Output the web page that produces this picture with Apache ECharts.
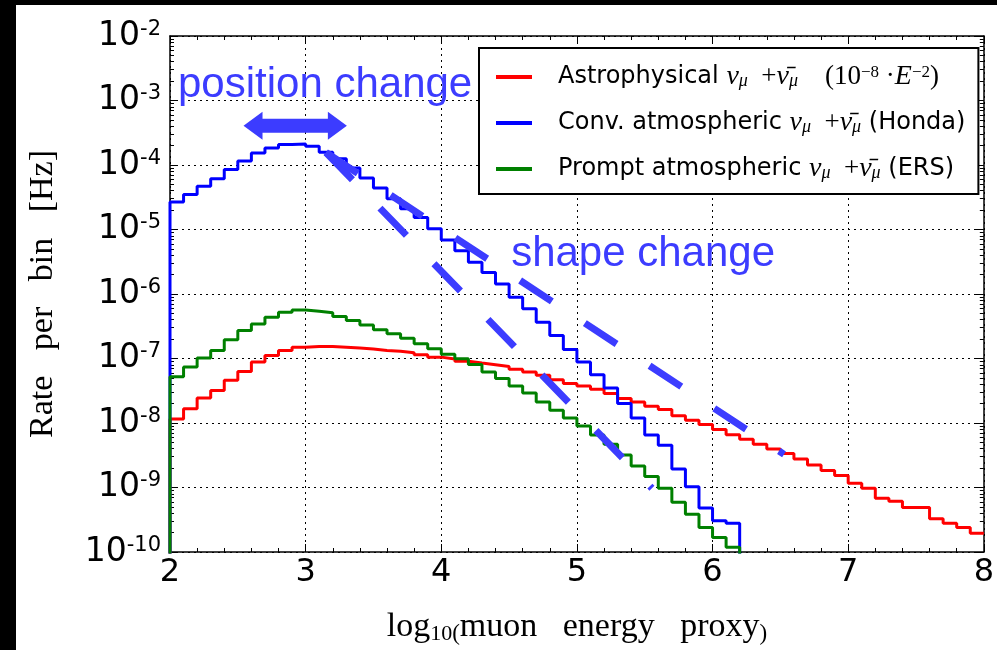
<!DOCTYPE html>
<html>
<head>
<meta charset="utf-8">
<script src="https://cdn.jsdelivr.net/npm/echarts@6/dist/echarts.min.js"></script>
<style>
  html, body { margin: 0; padding: 0; background: #fff; }
  #chart { width: 997px; height: 650px; }
</style>
</head>
<body>
<div id="chart"></div>
<script>
// Bin edges in log10(muon energy proxy); every bin is 0.1 wide.
const binEdges = [2.0, 2.1, 2.2, 2.3, 2.4, 2.5, 2.6, 2.7, 2.8, 2.9,
                  3.0, 3.1, 3.2, 3.3, 3.4, 3.5, 3.6, 3.7, 3.8, 3.9,
                  4.0, 4.1, 4.2, 4.3, 4.4, 4.5, 4.6, 4.7, 4.8, 4.9,
                  5.0, 5.1, 5.2, 5.3, 5.4, 5.5, 5.6, 5.7, 5.8, 5.9,
                  6.0, 6.1, 6.2, 6.3, 6.4, 6.5, 6.6, 6.7, 6.8, 6.9,
                  7.0, 7.1, 7.2, 7.3, 7.4, 7.5, 7.6, 7.7, 7.8, 7.9, 8.0];

// Rate per bin [Hz], one value per bin, starting at 2.0
const astroRate = [1.15e-8, 1.67e-8, 2.45e-8, 3.2e-8, 4.6e-8, 6.3e-8, 8.8e-8, 1.11e-7, 1.33e-7, 1.5e-7,
                   1.53e-7, 1.53e-7, 1.5e-7, 1.45e-7, 1.4e-7, 1.33e-7, 1.29e-7, 1.23e-7, 1.14e-7, 1.05e-7,
                   9.8e-8, 9.1e-8, 8.5e-8, 8.0e-8, 7.5e-8, 6.8e-8, 6.2e-8, 5.5e-8, 4.7e-8, 4.1e-8,
                   3.75e-8, 3.33e-8, 2.86e-8, 2.39e-8, 2.12e-8, 1.82e-8, 1.62e-8, 1.29e-8, 1.1e-8, 9.5e-9,
                   7.9e-9, 6.6e-9, 5.6e-9, 4.7e-9, 3.94e-9, 3.38e-9, 2.76e-9, 2.23e-9, 1.83e-9, 1.53e-9,
                   1.16e-9, 9.7e-10, 6.8e-10, 6.1e-10, 4.9e-10, 4.9e-10, 3.27e-10, 2.8e-10, 2.4e-10, 1.96e-10];

const convRate = [2.67e-5, 3.5e-5, 4.7e-5, 6.1e-5, 8.5e-5, 1.15e-4, 1.54e-4, 1.84e-4, 2.07e-4, 2.12e-4,
                  1.95e-4, 1.58e-4, 1.25e-4, 9.0e-5, 6.3e-5, 4.4e-5, 3.0e-5, 2.1e-5, 1.53e-5, 1.03e-5,
                  6.9e-6, 4.67e-6, 3.1e-6, 2.16e-6, 1.43e-6, 8.9e-7, 5.9e-7, 3.66e-7, 2.27e-7, 1.38e-7,
                  8.8e-8, 5.6e-8, 3.5e-8, 2.0e-8, 1.2e-8, 6.5e-9, 4.5e-9, 1.94e-9, 1.03e-9, 4.8e-10,
                  3.05e-10, 2.8e-10];

const promptRate = [5.2e-8, 7.4e-8, 1.02e-7, 1.33e-7, 1.95e-7, 2.71e-7, 3.44e-7, 4.37e-7, 5.2e-7, 5.66e-7,
                    5.4e-7, 5.1e-7, 4.46e-7, 3.87e-7, 3.32e-7, 2.78e-7, 2.41e-7, 2.06e-7, 1.69e-7, 1.42e-7,
                    1.16e-7, 9.9e-8, 8.1e-8, 6.2e-8, 4.9e-8, 3.75e-8, 2.92e-8, 2.12e-8, 1.58e-8, 1.2e-8,
                    9.0e-9, 6.5e-9, 4.7e-9, 3.2e-9, 2.15e-9, 1.48e-9, 9.7e-10, 5.9e-10, 3.86e-10, 2.4e-10,
                    1.68e-10, 1.18e-10];

// Axis ticks
const xTicks = [2, 3, 4, 5, 6, 7, 8];
const yTickExponents = [-10, -9, -8, -7, -6, -5, -4, -3, -2];

// Hand-drawn guide lines: [log10 E, rate] end points
const guideStart = [3.15, 1.56e-4];
const guideSteepEnd = [5.553, 9.75e-10];
const guideShallowEnd = [6.527, 3.27e-9];
const arrowEnds = [[2.542, 4.07e-4], [3.304, 4.07e-4]];
const positionLabelAt = [2.059, 1.05e-3];
const shapeLabelAt = [4.515, 2.5e-6];

const Y_MIN = 1e-10, Y_MAX = 1e-2;
const FLOOR = 1e-13; // below the axis: histogram edges drop out of view

// Build the outline of a step histogram from bin edges and per-bin values.
function histOutline(values, dropAtEnd) {
  const pts = [[binEdges[0], FLOOR]];
  values.forEach((v, i) => pts.push([binEdges[i], v]));
  const endEdge = binEdges[values.length];
  pts.push([endEdge, values[values.length - 1]]);
  if (dropAtEnd) pts.push([endEdge, FLOOR]);
  return pts;
}

// Minor ticks for a log axis: 2..9 times each decade
const yMinorTicks = [];
for (let e = -10; e < -2; e++) {
  for (let k = 2; k <= 9; k++) yMinorTicks.push(k * Math.pow(10, e));
}

const ANNOT = '#3c3cff';
const SERIF = '"Liberation Serif", "DejaVu Serif", serif';
const SANS = '"DejaVu Sans", sans-serif';

const mathRich = {
  sp: { width: 21 },
  t: { fontFamily: SANS, fontSize: 24, color: '#000', lineHeight: 26 },
  m: { fontFamily: SERIF, fontSize: 27, color: '#000', lineHeight: 26 },
  mi: { fontFamily: SERIF, fontStyle: 'italic', fontSize: 28, color: '#000', lineHeight: 26 },
  sub: { fontFamily: SERIF, fontStyle: 'italic', fontSize: 18, color: '#000', lineHeight: 16, verticalAlign: 'bottom' },
  sup: { fontFamily: SERIF, fontSize: 17, color: '#000', lineHeight: 16, verticalAlign: 'top' }
};

const legendText = {
  'Astrophysical': '{sp|}{t|Astrophysical }{mi|ν}{sub|μ}{m|  +}{mi|ν̄}{sub|μ}{m|    (10}{sup|−8}{m| ·}{mi|E}{sup|−2}{m|)}',
  'Conv. atmospheric': '{sp|}{t|Conv. atmospheric }{mi|ν}{sub|μ}{m|  +}{mi|ν̄}{sub|μ}{t| (Honda)}',
  'Prompt atmospheric': '{sp|}{t|Prompt atmospheric }{mi|ν}{sub|μ}{m|  +}{mi|ν̄}{sub|μ}{t| (ERS)}'
};

function exponentOf(v) { return Math.round(Math.log10(v)); }

const dotted = { color: '#000', width: 1, type: [2, 4] };

const option = {
  animation: false,
  backgroundColor: '#fff',
  grid: { left: 170, top: 36, right: 8, bottom: 96, containLabel: false },
  legend: {
    data: ['Astrophysical', 'Conv. atmospheric', 'Prompt atmospheric'],
    orient: 'vertical',
    left: 479, top: 48,
    padding: [15, 13, 11, 17],
    icon: 'rect',
    itemWidth: 36, itemHeight: 4, itemGap: 18,
    backgroundColor: '#fff',
    borderColor: '#000', borderWidth: 2,
    formatter: name => legendText[name],
    textStyle: { rich: mathRich }
  },
  xAxis: [
    {
      type: 'value', min: 2, max: 8, interval: 1, position: 'bottom',
      axisLine: { lineStyle: { color: '#000', width: 1.5 } },
      axisTick: { inside: true, length: 8, lineStyle: { color: '#000' } },
      minorTick: { show: true, splitNumber: 5, length: 4, lineStyle: { color: '#000' } },
      splitLine: { show: true, lineStyle: dotted },
      axisLabel: {
        customValues: xTicks,
        fontFamily: SANS, fontSize: 32, color: '#000', margin: 5,
        formatter: v => String(v)
      },
      name: '{a|log}{s|10}{p|(}{a|muon   energy   proxy}{p|)}',
      nameLocation: 'middle', nameGap: 57,
      nameTextStyle: {
        rich: {
          a: { fontFamily: SERIF, fontSize: 34, color: '#000', lineHeight: 36 },
          s: { fontFamily: SERIF, fontSize: 22, color: '#000', lineHeight: 21, verticalAlign: 'bottom' },
          p: { fontFamily: SERIF, fontSize: 23, color: '#000', lineHeight: 24, verticalAlign: 'bottom' }
        }
      }
    },
    {
      type: 'value', min: 2, max: 8, interval: 1, position: 'top',
      axisLine: { lineStyle: { color: '#000', width: 1.5 } },
      axisTick: { inside: true, length: 8, lineStyle: { color: '#000' } },
      minorTick: { show: true, splitNumber: 5, length: 4, lineStyle: { color: '#000' } },
      splitLine: { show: false },
      axisLabel: { show: false }
    }
  ],
  yAxis: [
    {
      type: 'log', logBase: 10, min: Y_MIN, max: Y_MAX, splitNumber: 8, position: 'left',
      axisLine: { lineStyle: { color: '#000', width: 1.5 } },
      axisTick: { inside: true, length: 8, lineStyle: { color: '#000' } },
      splitLine: { show: true, lineStyle: dotted },
      axisLabel: {
        customValues: yTickExponents.map(e => Math.pow(10, e)),
        margin: 9,
        formatter: v => '{b|10}{s|' + exponentOf(v) + '}',
        rich: {
          b: { fontFamily: SANS, fontSize: 33, color: '#000', lineHeight: 34 },
          s: { fontFamily: SANS, fontSize: 21, color: '#000', lineHeight: 20, verticalAlign: 'top' }
        }
      },
      name: 'Rate   per   bin   [Hz]',
      nameLocation: 'middle', nameGap: 110, nameRotate: 90,
      nameTextStyle: { fontFamily: SERIF, fontSize: 34, color: '#000' }
    },
    {
      type: 'log', logBase: 10, min: Y_MIN, max: Y_MAX, splitNumber: 8, position: 'right',
      axisLine: { show: true, lineStyle: { color: '#000', width: 1.5 } },
      axisTick: { inside: true, length: 8, lineStyle: { color: '#000' } },
      splitLine: { show: false },
      axisLabel: { show: false }
    },
    {
      type: 'log', logBase: 10, min: Y_MIN, max: Y_MAX, position: 'left',
      axisLine: { show: false },
      axisTick: { inside: true, length: 4, customValues: yMinorTicks, lineStyle: { color: '#000' } },
      splitLine: { show: false },
      axisLabel: { show: false }
    },
    {
      type: 'log', logBase: 10, min: Y_MIN, max: Y_MAX, position: 'right',
      axisLine: { show: false },
      axisTick: { inside: true, length: 4, customValues: yMinorTicks, lineStyle: { color: '#000' } },
      splitLine: { show: false },
      axisLabel: { show: false }
    }
  ],
  series: [
    {
      name: 'Astrophysical', type: 'line', step: 'end', symbol: 'none',
      data: histOutline(astroRate, false),
      lineStyle: { color: '#ff0000', width: 3 }, itemStyle: { color: '#ff0000' }, z: 2
    },
    {
      name: 'Conv. atmospheric', type: 'line', step: 'end', symbol: 'none',
      data: histOutline(convRate, true),
      lineStyle: { color: '#0000ff', width: 3 }, itemStyle: { color: '#0000ff' }, z: 3
    },
    {
      name: 'Prompt atmospheric', type: 'line', step: 'end', symbol: 'none',
      data: histOutline(promptRate, true),
      lineStyle: { color: '#008000', width: 3 }, itemStyle: { color: '#008000' }, z: 4
    },
    {
      name: 'guide-steep', type: 'line', symbol: 'none', silent: true, z: 6,
      data: [guideStart, guideSteepEnd],
      lineStyle: { color: ANNOT, width: 7, type: [38, 39.5], cap: 'butt' }
    },
    {
      name: 'guide-shallow', type: 'line', symbol: 'none', silent: true, z: 6,
      data: [guideStart, guideShallowEnd],
      lineStyle: { color: ANNOT, width: 7, type: [38, 39.5], cap: 'butt' }
    }
  ]
};

const chart = echarts.init(document.getElementById('chart'), null, { renderer: 'canvas' });
chart.setOption(option);

// Annotations anchored in data space
const toPx = p => chart.convertToPixel({ xAxisIndex: 0, yAxisIndex: 0 }, p);
const aL = toPx(arrowEnds[0]), aR = toPx(arrowEnds[1]);
const hl = 19, hw = 14, sw = 7, ay = aL[1];
const arrowPts = [
  [aL[0], ay], [aL[0] + hl, ay - hw], [aL[0] + hl, ay - sw], [aR[0] - hl, ay - sw],
  [aR[0] - hl, ay - hw], [aR[0], ay], [aR[0] - hl, ay + hw], [aR[0] - hl, ay + sw],
  [aL[0] + hl, ay + sw], [aL[0] + hl, ay + hw]
];
const posAt = toPx(positionLabelAt), shapeAt = toPx(shapeLabelAt);

chart.setOption({
  graphic: [
    { type: 'rect', shape: { x: 0, y: 0, width: 16, height: 650 }, style: { fill: '#000' }, z: 100 },
    { type: 'rect', shape: { x: 0, y: 0, width: 997, height: 5 }, style: { fill: '#000' }, z: 100 },
    { type: 'polygon', shape: { points: arrowPts }, style: { fill: ANNOT }, z: 50 },
    {
      type: 'text', x: posAt[0], y: posAt[1] - 14, z: 50,
      style: { text: 'position change', fill: ANNOT, font: '42px "Liberation Sans", Arial, sans-serif', verticalAlign: 'middle', align: 'left' }
    },
    {
      type: 'text', x: shapeAt[0], y: shapeAt[1] - 14, z: 50,
      style: { text: 'shape change', fill: ANNOT, font: '42px "Liberation Sans", Arial, sans-serif', verticalAlign: 'middle', align: 'left' }
    }
  ]
});
</script>
</body>
</html>
